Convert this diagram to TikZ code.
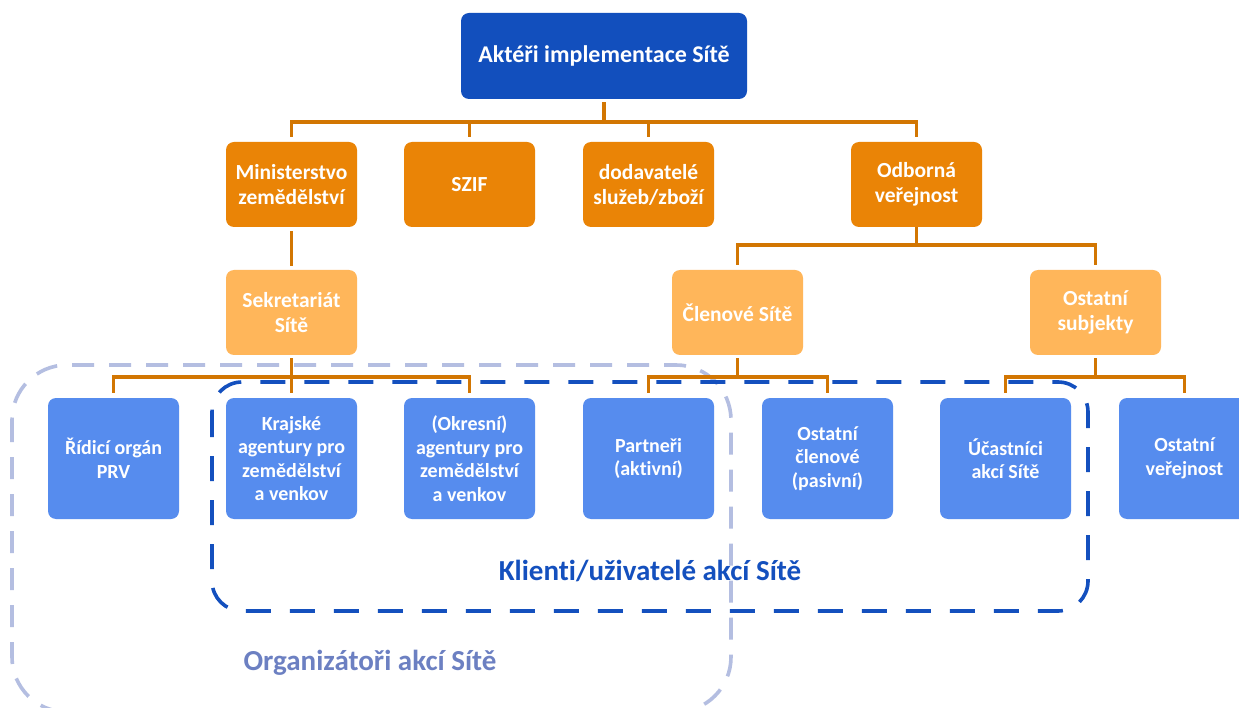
\documentclass[tikz,border=0pt]{standalone}
\usepackage{fontspec}
\setmainfont{Carlito}[Ligatures=CommonOff]
\usetikzlibrary{calc}

\definecolor{topblue}{RGB}{18,79,189}
\definecolor{orangeA}{RGB}{234,132,6}
\definecolor{orangeL}{RGB}{255,182,90}
\definecolor{leafblue}{RGB}{86,140,238}
\definecolor{connor}{RGB}{210,118,2}
\definecolor{clientblue}{RGB}{20,80,190}
\definecolor{orgline}{RGB}{180,190,225}
\definecolor{orgtextc}{RGB}{108,128,194}

\tikzset{
  box/.style={rectangle, rounded corners=8pt, inner sep=0pt, align=center,
    text=white, font=\bfseries\fontsize{21.5}{25}\selectfont},
  topbox/.style={box, fill=topblue, minimum width=286pt, minimum height=86pt,
    font=\bfseries\fontsize{24}{28}\selectfont},
  lvltwo/.style={box, fill=orangeA, minimum width=131pt, minimum height=85pt},
  lvlthree/.style={box, fill=orangeL, minimum width=131pt, minimum height=85pt},
  leaf/.style={box, fill=leafblue, minimum width=131pt, minimum height=121pt,
    font=\bfseries\fontsize{20}{23.5}\selectfont},
  conn/.style={draw=connor, line width=3.6pt, shorten >=5pt, shorten <=3pt},
  orgframe/.style={draw=orgline, line width=3.6pt, rounded corners=55pt,
    dash pattern=on 22pt off 15pt},
  clientframe/.style={draw=clientblue, line width=3.6pt, rounded corners=30pt,
    dash pattern=on 25pt off 19pt},
  grouplabel/.style={font=\bfseries\fontsize{29}{34}\selectfont}
}

\begin{document}
\begin{tikzpicture}[x=1pt, y=-1pt]
\clip (0,0) rectangle (1239,708);
\fill[white] (0,0) rectangle (1239,708);

% group frames
\draw[orgframe] (12,365) rectangle (731,712);
\draw[clientframe] (212,382) rectangle (1088,611);

% root
\node[topbox] (root) at (604,56) {Aktéři implementace Sítě};

% second level
\node[lvltwo] (mz)   at (291.5,184.5) {Ministerstvo\\zemědělství};
\node[lvltwo] (szif) at (469.5,184.5) {SZIF};
\node[lvltwo] (dod)  at (648.5,184.5) {dodavatelé\\služeb/zboží};
\node[lvltwo] (odb)  at (916.5,184.5) {Odborná\\veřejnost};

% third level
\node[lvlthree] (sek) at (291.5,312.5)  {Sekretariát\\Sítě};
\node[lvlthree] (cle) at (737.5,312.5)  {Členové Sítě};
\node[lvlthree] (ost) at (1095.5,312.5) {Ostatní\\subjekty};

% leaves
\node[leaf] (rid) at (113.5,458.5)  {Řídicí orgán\\PRV};
\node[leaf] (kraj) at (291.5,458.5) {Krajské\\agentury pro\\zemědělství\\a venkov};
\node[leaf] (okr) at (469.5,458.5)  {(Okresní)\\agentury pro\\zemědělství\\a venkov};
\node[leaf] (par) at (648.5,458.5)  {Partneři\\(aktivní)};
\node[leaf] (ocl) at (827.5,458.5)  {Ostatní\\členové\\(pasivní)};
\node[leaf] (uca) at (1005.5,458.5) {Účastníci\\akcí Sítě};
\node[leaf] (ove) at (1184.5,458.5) {Ostatní\\veřejnost};

% connectors
\foreach \c in {mz,szif,dod,odb}
  \draw[conn] (root.south) -- ++(0,23) -| (\c.north);
\draw[conn, shorten >=4pt, shorten <=4pt] (mz.south) -- (sek.north);
\foreach \c in {cle,ost}
  \draw[conn, shorten <=0pt] (odb.south) -- ++(0,18) -| (\c.north);
\foreach \c in {rid,kraj,okr}
  \draw[conn] (sek.south) -- ++(0,22) -| (\c.north);
\foreach \c in {par,ocl}
  \draw[conn] (cle.south) -- ++(0,22) -| (\c.north);
\foreach \c in {uca,ove}
  \draw[conn] (ost.south) -- ++(0,22) -| (\c.north);

% group labels
\node[grouplabel, text=clientblue] (klabel) at (650,571) {Klienti/uživatelé akcí Sítě};
\node[grouplabel, text=orgtextc] (olabel) at (370,663) {Organizátoři akcí Sítě};
\end{tikzpicture}
\end{document}
